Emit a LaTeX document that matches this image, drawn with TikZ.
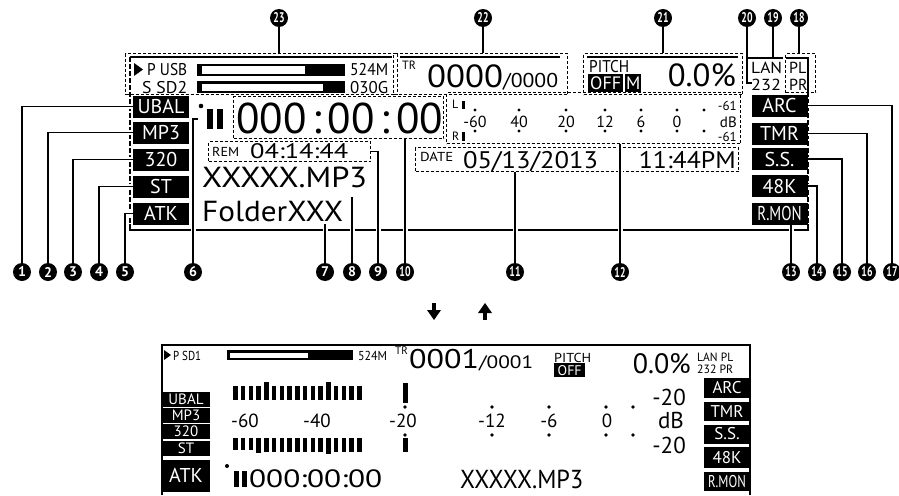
\documentclass[tikz,border=0pt]{standalone}
\usepackage{fontspec}
\usepackage{graphicx}
\setmainfont{PT Sans}
\usetikzlibrary{arrows.meta}
\newcommand{\fs}[1]{\fontsize{#1}{#1}\selectfont}
\newcommand{\fw}[2]{\resizebox{#1pt}{\height}{#2}}
\tikzset{
 numc/.style={circle, fill=black, text=white, minimum size=18pt, inner sep=0pt, font=\bfseries\fs{14}},
 blk/.style={fill=black, text=white, minimum width=56pt, minimum height=22pt, inner sep=0pt, font=\fs{20}},
 sblk/.style={fill=black, text=white, minimum width=46pt, minimum height=19pt, inner sep=0pt, font=\fs{17}},
 lblk/.style={fill=black, text=white, minimum width=48pt, minimum height=15pt, inner sep=0pt, font=\fs{15}},
 dbox/.style={draw, line width=1.3pt, dash pattern=on 3pt off 2pt, inner sep=0pt, anchor=north west},
 lead/.style={line width=1.6pt, preaction={draw=white, line width=5pt}},
 frm/.style={line width=1.5pt},
 txt/.style={inner sep=0pt, anchor=base west},
 txe/.style={inner sep=0pt, anchor=base east},
 txc/.style={inner sep=0pt, anchor=base},
 two/.style={inner sep=0pt, anchor=north west, align=left},
}
\begin{document}
\begin{tikzpicture}[x=1pt,y=-1pt]
\useasboundingbox (0,0) rectangle (899,495);

% ---------- upper display frame ----------
\draw[frm] (130,57) -- (392,57);
\draw[frm] (400,57) -- (560,57);
\draw[frm] (587,57) -- (738,57);
\draw[frm] (747,58) -- (783,58);
\draw[frm] (786,58) -- (808,58) -- (808,92);
\draw[frm, dash pattern=on 5pt off 2pt] (130,57) -- (130,225);
\draw[frm, dash pattern=on 5pt off 2pt] (808,92) -- (808,225);
\draw[frm] (130,224) -- (130,230) -- (808,230) -- (808,224);

% ---------- callout circles ----------
\foreach \n/\x in {1/22,2/48,3/73,4/99,5/125,6/193,7/325,8/352,9/378}
  \node[numc] (c\n) at (\x,272) {\n};
\foreach \n/\x in {10/405,11/515,12/620,13/791,14/817,15/842,16/867,17/892}
  \node[numc] (c\n) at (\x,272) {\scalebox{0.7}[1]{\n}};
\foreach \n/\x in {18/799,19/773,20/747,21/663,22/483,23/279}
  \node[numc] (c\n) at (\x,18) {\scalebox{0.7}[1]{\n}};

% ---------- dashed boxes ----------
\node[dbox, minimum width=272pt, minimum height=41pt] (pusb) at (125,53) {};
\node[dbox, minimum width=174pt, minimum height=41pt] (tr) at (393,53) {};
\node[dbox, minimum width=159pt, minimum height=41pt] (pitch) at (583,53) {};
\node[dbox, minimum width=30pt, minimum height=39pt] (pl) at (785,53) {};
\node[dbox, minimum width=210pt, minimum height=42pt] (time) at (233,96) {};
\node[dbox, minimum width=162pt, minimum height=20pt] (rem) at (208,141) {};
\node[dbox, minimum width=294pt, minimum height=51pt] (meter) at (446,92) {};
\node[dbox, minimum width=323pt, minimum height=24pt] (date) at (415,147) {};

% ---------- black indicator boxes ----------
\node[blk] (ubal) at (161,106.5) {UBAL};
\node[blk] (mp3) at (161,132.5) {MP3};
\node[blk] (b320) at (161,159.5) {320};
\node[blk] (st) at (161,186.5) {ST};
\node[blk] (atk) at (161,213.5) {ATK};
\node[blk] (arc) at (779.5,105.5) {ARC};
\node[blk] (tmr) at (779.5,133.5) {TMR};
\node[blk] (ss) at (779.5,159) {S.S.};
\node[blk] (k48) at (779.5,186) {48K};
\node[blk] (rmon) at (779.5,213.5) {\scalebox{0.75}[1]{R.MON}};

% ---------- leaders ----------
\coordinate (p6) at (198,119);
\coordinate (p7) at (325,224);
\coordinate (p8) at (352,197);
\coordinate (p19) at (773,58);
\coordinate (p20) at (752,83);
\draw[lead] (ubal.west) -| (c1);
\draw[lead] (mp3.west) -| (c2);
\draw[lead] (b320.west) -| (c3);
\draw[lead] (st.west) -| (c4);
\draw[lead] (atk.west) -| (c5);
\draw[lead] (c6) |- (p6);
\draw[lead] (c7) -- (p7);
\draw[lead] (c8) -- (p8);
\draw[lead] (c9) |- (rem.east);
\draw[lead] (c10) -- (c10 |- time.south);
\draw[lead] (c11) -- (c11 |- date.south);
\draw[lead] (c12) -- (c12 |- meter.south);
\draw[lead] (c13) -- (c13 |- rmon.south);
\draw[lead] (k48.east) -| (c14);
\draw[lead] (ss.east) -| (c15);
\draw[lead] (tmr.east) -| (c16);
\draw[lead] (arc.east) -| (c17);
\draw[frm, line width=1.6pt] (c18) -- (c18 |- pl.north);
\draw[frm, line width=1.6pt] (c19) -- (p19);
\draw[frm, line width=1.6pt] (c20) |- (p20);
\draw[frm, line width=1.6pt] (c21) -- (c21 |- pitch.north);
\draw[frm, line width=1.6pt] (c22) -- (c22 |- tr.north);
\draw[frm, line width=1.6pt] (c23) -- (c23 |- pusb.north);

% ---------- upper display contents ----------
\fill (134,63) -- (143,69.5) -- (134,76) -- cycle;
\node[txt] (tpusb) at (147,76) {\fw{40}{\fs{17}P USB}};
\node[txt] (tssd) at (142,93) {\fw{45}{\fs{17}S SD2}};
\fill (197,64) rectangle (345,76);
\fill[white] (202,66.5) rectangle (305,73.5);
\fill (197,81) rectangle (345,93);
\fill[white] (202,83.5) rectangle (323,90.5);
\node[txt] (t524) at (350,76) {\fw{38}{\fs{17}524M}};
\node[txt] (t030) at (350,93) {\fw{38}{\fs{17}030G}};

\node[txt] (ttr) at (402,70) {\fs{12}TR};
\node[txt] (tcnt) at (427,87) {\fw{131}{\fs{32}0000\fs{20}/0000}};

\node[txt] (tpitch) at (589,73) {\fw{40}{\fs{17}PITCH}};
\node[fill=black, text=white, inner sep=0pt, minimum width=35pt, minimum height=18pt, anchor=north west, font=\fs{18}] (toff) at (588,74) {OFF};
\node[fill=black, text=white, inner sep=0pt, minimum width=16pt, minimum height=18pt, anchor=north west, font=\fs{18}] (tm) at (625,74) {M};
\node[txe] (tpct) at (736,86) {\fw{68}{\fs{32}0.0\%}};

\node[two, font=\fontsize{16}{17}\selectfont] (tlan) at (751,62) {\fw{31}{LAN}\\\fw{30}{232}};
\node[two, font=\fontsize{16}{17}\selectfont] (tpl) at (789,62) {PL\\PR};

\fill (201,106) circle (2.3);
\fill (207,109) rectangle (213,129);
\fill (217,109) rectangle (223,129);
\node[txt] (ttime) at (236,133) {\fs{43}000\hspace{6pt}:\hspace{6pt}00\hspace{6pt}:\hspace{6pt}00};

\node[txt] (trem) at (212,156) {\fw{27}{\fs{13}REM}};
\node[txt] (trt) at (250,158) {\fw{98}{\fs{21}04:14:44}};
\node[txt] (tfile) at (202,187) {\fw{165}{\fs{29}XXXXX.MP3}};
\node[txt] (tfold) at (202,221) {\fw{141}{\fs{29}FolderXXX}};

\node[txt] (tL) at (452,108) {\fs{12}L};
\node[txt] (tR) at (452,140) {\fs{12}R};
\fill (462,101) rectangle (465,109);
\fill (462,132) rectangle (465,141);
\foreach \x in {475,519,566,605,641,677,704} {
  \fill (\x,110) circle (1.6);
  \fill (\x,131) circle (1.6);
}
\node[txc] (m60) at (475,127) {\fs{16}-60};
\node[txc] (m40) at (519,127) {\fs{16}40};
\node[txc] (m20) at (566,127) {\fs{16}20};
\node[txc] (m12) at (605,127) {\fs{16}12};
\node[txc] (m6) at (641,127) {\fs{16}6};
\node[txc] (m0) at (677,127) {\fs{16}0};
\node[txe] (mt61) at (737,110) {\fs{13}-61};
\node[txe] (mdb) at (737,127) {\fs{15}dB};
\node[txe] (mb61) at (737,141) {\fs{13}-61};

\node[txt] (tdate) at (420,161) {\fw{33}{\fs{13}DATE}};
\node[txt] (tdd) at (463,168) {\fw{135}{\fs{24}05/13/2013}};
\node[txe] (thh) at (736,168) {\fw{97}{\fs{24}11:44PM}};

% ---------- arrows ----------
\fill (432,303) rectangle (436,311) ; \fill (427,310) -- (441,310) -- (434,320) -- cycle;
\fill (483,312) rectangle (487,320) ; \fill (478,313) -- (492,313) -- (485,303) -- cycle;

% ---------- lower display ----------
\draw[frm] (162,495) -- (162,345) -- (750,345) -- (750,495);
\fill (164,350) -- (171,355) -- (164,360) -- cycle;
\node[txt] (bpsd) at (173,360) {\fw{28}{\fs{13}P SD1}};
\fill (227,350) rectangle (353,360);
\fill[white] (230,352.5) rectangle (308,357.5);
\node[txt] (b524) at (358,360) {\fw{29}{\fs{13}524M}};
\node[txt] (btr) at (395,354) {\fs{11}TR};
\node[txt] (bcnt) at (409,368) {\fw{124}{\fs{27}0001\fs{18}/0001}};
\node[txt] (bpitch) at (554,362) {\fw{37}{\fs{13}PITCH}};
\node[fill=black, text=white, inner sep=0pt, minimum width=31pt, minimum height=14pt, anchor=north west, font=\fs{14}] (boff) at (554,363) {OFF};
\node[txe] (bpct) at (691,373) {\fw{58}{\fs{28}0.0\%}};
\node[two, font=\fontsize{12}{12}\selectfont] (blan) at (697,352.5) {\fw{36}{LAN PL}\\\fw{36}{232\hspace{3pt}PR}};

\node[sblk, minimum height=20pt] (barc) at (727,388) {ARC};
\node[sblk] (btmr) at (727,411.5) {TMR};
\node[sblk] (bss) at (727,434) {S.S.};
\node[sblk, minimum height=21pt] (b48) at (727,457.5) {48K};
\node[sblk] (brmon) at (727,481.5) {\scalebox{0.75}[1]{R.MON}};

\node[lblk] (bubal) at (186,399) {UBAL};
\node[lblk] (bmp3) at (186,415.5) {MP3};
\node[lblk] (b3) at (186,431.5) {320};
\node[lblk] (bst) at (186,448) {ST};
\node[lblk, minimum height=32pt, font=\fs{20}] (batk) at (186,475.5) {ATK};

% level bars
\foreach \i/\ut/\lb in {0/386/450,1/386/450,2/386/450,3/386/453,4/382/452,5/386/452,6/386/452,7/386/452,8/386/452,9/386/452,10/386/452,11/386/452,12/382/454,13/386/452,14/386/452,15/386/452,16/386/452} {
  \fill ({233+\i*7.75},\ut) rectangle ({237.5+\i*7.75},400);
  \fill ({233+\i*7.75},438) rectangle ({237.5+\i*7.75},\lb);
}
\fill (403,383) rectangle (408,403);
\fill (403,438) rectangle (408,452);
\foreach \x in {405,492,549,606,633} {
  \fill (\x,407) circle (1.8);
  \fill (\x,435) circle (1.8);
}
\node[txc] (n60) at (245,427) {\fs{19}-60};
\node[txc] (n40) at (317,427) {\fs{19}-40};
\node[txc] (n20) at (403,427) {\fs{19}-20};
\node[txc] (n12) at (492,427) {\fs{19}-12};
\node[txc] (n6) at (549,427) {\fs{19}-6};
\node[txc] (n0) at (607,427) {\fs{19}0};
\node[txe] (nt20) at (686,405) {\fs{23}-20};
\node[txe] (ndb) at (684,428) {\fs{23}dB};
\node[txe] (nb20) at (686,453) {\fs{23}-20};

\fill (227,466) circle (2);
\fill (234,471) rectangle (238.5,487);
\fill (242,471) rectangle (246.5,487);
\node[txt] (btime) at (249,487) {\fw{133}{\fs{25}000:00:00}};
\node[txt] (bfile) at (460,488) {\fw{123}{\fs{26}XXXXX.MP3}};
\end{tikzpicture}
\end{document}
